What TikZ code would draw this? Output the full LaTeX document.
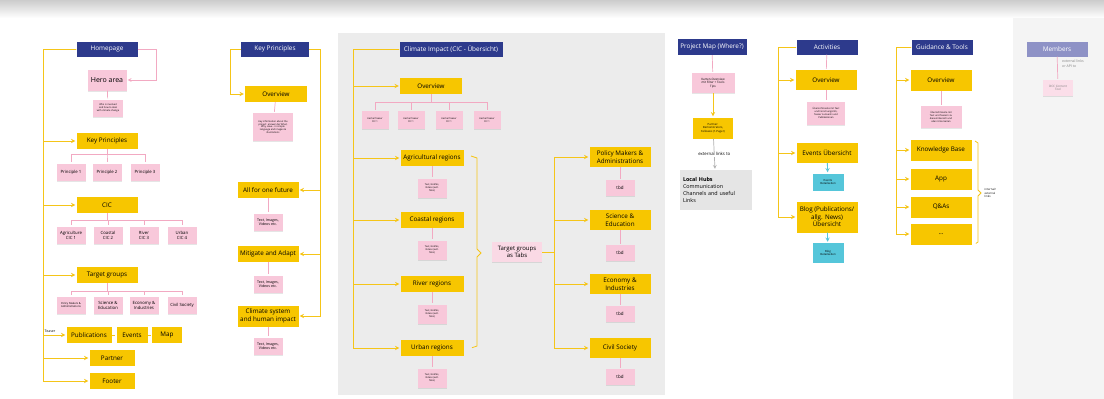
\documentclass[tikz,border=0pt]{standalone}
\usepackage{fontspec}
\setmainfont{Open Sans}
\usetikzlibrary{shadows}

\definecolor{navy}{HTML}{2D3A8C}
\definecolor{miroyellow}{HTML}{F7C600}
\definecolor{stickypink}{HTML}{F8C8DA}
\definecolor{linepink}{HTML}{F2A9C2}
\definecolor{lineyellow}{HTML}{F5C518}
\definecolor{mirocyan}{HTML}{55C6DA}
\definecolor{membernavy}{HTML}{8E92C6}
\def\fsz#1#2{\fontsize{#1}{#2}\selectfont}

\begin{document}
\begin{tikzpicture}[x=1pt,y=-1pt,>=stealth,shorten >=1pt]
\tikzstyle{title}=[fill=navy,text=white,minimum width=61pt,minimum height=15pt,inner sep=1pt,font=\fsz{6.4}{7.4}]
\tikzstyle{page}=[fill=miroyellow,minimum width=61pt,minimum height=16pt,inner sep=1pt,align=center,font=\fsz{6.3}{7.6}]
\tikzstyle{sticky}=[fill=stickypink,minimum width=29pt,minimum height=17pt,inner sep=0.5pt,align=center,font=\fsz{4.3}{5},drop shadow={opacity=0.2,shadow xshift=0pt,shadow yshift=-1pt}]
\tikzstyle{tiny}=[sticky,font=\fsz{2.4}{2.9}]
\tikzstyle{detail}=[fill=mirocyan,minimum width=31pt,minimum height=17pt,inner sep=0.5pt,align=center,font=\fsz{2.8}{3.4}]
\tikzstyle{bus}=[draw=lineyellow,line width=0.9pt]
\tikzstyle{feed}=[bus,->]
\tikzstyle{link}=[draw=linepink,line width=0.7pt]

\useasboundingbox (0,0) rectangle (1104,399);
\fill[white] (0,0) rectangle (1104,399);
\shade[top color=gray!40,bottom color=white] (0,0) rectangle (1104,18);
\fill[gray!15] (338,33) rectangle (665,395);
\fill[gray!9] (1013,18) rectangle (1104,399);

% Homepage
\node[title] (home) at (107,49) {Homepage};
\node[sticky,minimum width=39pt,minimum height=21pt,font=\fsz{7}{8}] (hero) at (107,80) {Hero area};
\node[tiny,minimum width=30pt] (heronote) at (108,108) {Who is involved\\and how to deal\\with climate change};
\node[page] (kp) at (107,141) {Key Principles};
\foreach \name / \x in {1/71,2/107,3/145}
\node[sticky] (pr-\name) at (\x,172) {Principle \name};
\node[page] (cic) at (107,205) {CIC};
\foreach \name / \x / \txt in {1/71/Agriculture,2/108/Coastal,3/144/River,4/182/Urban}
\node[sticky] (cic-\name) at (\x,235) {\txt\\CIC \name};
\node[page] (tg) at (107,275) {Target groups};
\node[tiny,font=\fsz{2.7}{3.2}] (tg-1) at (71,305) {Policy Makers \&\\Administrations};
\node[sticky] (tg-2) at (108,305) {Science \&\\Education};
\node[sticky] (tg-3) at (144,305) {Economy \&\\Industries};
\node[sticky] (tg-4) at (182,305) {Civil Society};
\node[page,minimum width=45pt] (pub) at (89,335) {Publications};
\node[page,minimum width=31pt] (events) at (132,335) {Events};
\node[page,minimum width=30pt] (map) at (167,335) {Map};
\node[page,minimum width=45pt] (partner) at (112,358) {Partner};
\node[page,minimum width=45pt] (footer) at (112,381) {Footer};
\node[font=\fsz{3.5}{4},anchor=south west,inner sep=0.5pt] (teaser) at (44,333) {Teaser};

\coordinate (hbus) at (43,49);
\foreach \dest in {kp,cic,tg,pub,partner,footer}
\draw[feed] (home.west) -- (hbus) |- (\dest.west);
\draw[bus] (pub) -- (events);
\draw[bus] (events) -- (map);
\draw[link,->] (home.east) -- ++(19,0) |- (hero.east);
\draw[link] (hero) -- (heronote);
\foreach \n in {1,2,3}
\draw[link] (kp.south) -- ++(0,5) -| (pr-\n.north);
\foreach \n in {1,...,4}
\draw[link] (cic.south) -- ++(0,7) -| (cic-\n.north);
\foreach \n in {1,...,4}
\draw[link] (tg.south) -- ++(0,8) -| (tg-\n.north);

% Key Principles
\node[title,minimum width=68pt] (kptitle) at (275,49) {Key Principles};
\node[page,minimum width=62pt] (kpov) at (276,94) {Overview};
\node[tiny,minimum width=40pt,minimum height=28pt] (kpnote) at (273,127) {Key information about the\\project: answer der What,\\Why, How\ldots{} in simple\\language and images \&\\illustrations};
\node[page] (future) at (268,190) {All for one future};
\node[page] (mitigate) at (268,254) {Mitigate and Adapt};
\node[page,minimum height=21pt] (system) at (268,316) {Climate system\\and human impact};
\foreach \p / \y in {future/222,mitigate/284,system/346}
\node[sticky,font=\fsz{3.6}{4.3}] (\p-n) at (268,\y) {Text, Images,\\Videos etc.};

\draw[feed] (kptitle.west) -- ++(-10,0) |- (kpov.west);
\coordinate (kbus) at (320,49);
\foreach \dest in {future,mitigate,system}
\draw[feed] (kptitle.east) -- (kbus) |- (\dest.east);
\draw[link] (kpov) -- (kpnote);
\foreach \p in {future,mitigate,system}
\draw[link] (\p) -- (\p-n);

% Climate Impact
\node[title,minimum width=103pt] (cictitle) at (451,49) {Climate Impact (CIC - Übersicht)};
\node[page,minimum width=62pt] (cicov) at (431,86) {Overview};
\foreach \name / \x in {1/375,2/411,3/449,4/487}
\node[tiny,minimum width=27pt,minimum height=18pt] (teaser-\name) at (\x,120) {Kachel Teaser\\CIC 1};
\foreach \n in {1,...,4}
\draw[link] (cicov.south) -- ++(0,8) -| (teaser-\n.north);

\foreach \name / \y / \txt in {agri/158/Agricultural regions,coast/220/Coastal regions,river/284/River regions,urban/348/Urban regions}
{
\node[page,minimum width=63pt] (\name) at (432,\y) {\txt};
\node[tiny,minimum height=19pt] (\name-n) at (432,\y+30) {Text, Grafiks,\\Videos (evtl.\\Tabs)};
\draw[link] (\name) -- (\name-n);
}
\coordinate (cbus) at (353,49);
\foreach \dest in {cicov,agri,coast,river,urban}
\draw[feed] (cictitle.west) -- (cbus) |- (\dest.west);
\draw[bus,line width=0.8pt] (471,156) -- (477,158) -- (477,249) -- (481,253) -- (477,257) -- (477,346) -- (471,348);

\node[sticky,fill=stickypink!70,minimum width=50pt,minimum height=20pt,font=\fsz{6}{7},drop shadow={opacity=0}] (tabs) at (517,252) {Target groups\\as Tabs};
\foreach \name / \y / \ny / \txt in {policy/157/188/{Policy Makers \&\\Administrations},science/220/253/{Science \&\\Education},economy/284/314/{Economy \&\\Industries},civil/348/377/Civil Society}
{
\node[page,minimum height=20pt] (\name) at (620,\y) {\txt};
\node[sticky,minimum height=16pt,font=\fsz{4.5}{5}] (\name-n) at (620,\ny) {tbd};
\draw[link] (\name) -- (\name-n);
}
\coordinate (tbus) at (554,252);
\foreach \dest in {policy,science,economy,civil}
\draw[feed] (tabs.east) -- (tbus) |- (\dest.west);

% Project Map
\node[title,minimum width=69pt,minimum height=16pt] (pmtitle) at (712,47) {Project Map (Where?)};
\node[tiny,minimum width=43pt,minimum height=20pt,font=\fsz{3}{3.6}] (karten) at (713,83) {Karten-Overview\\mit Filter + Tools\\Tips};
\node[page,minimum width=40pt,minimum height=21pt,font=\fsz{2.8}{3.4}] (pmpartner) at (713,128) {Partner:\\Demonstrators,\\Fellowes (1-Pager)};
\node[fill=gray!20,minimum width=72pt,minimum height=40pt,align=left,text width=66pt,font=\fsz{5.4}{7}] (hubs) at (716,190) {\textbf{Local Hubs}\\Communication\\Channels and useful\\Links};
\draw[link] (pmtitle) -- (karten);
\draw[feed] (karten) -- (pmpartner);
\draw[draw=gray!60,line width=0.7pt,->] (pmpartner) -- node[fill=white,font=\fsz{4.3}{5},inner sep=1pt] (extlbl) {external links to} (hubs);

% Activities
\node[title] (actitle) at (827,47) {Activities};
\node[page,minimum height=20pt] (acov) at (826,80) {Overview};
\node[tiny,minimum width=38pt,minimum height=23pt] (acnote) at (826,113) {Übersichtsseite mit Text\\und Forschungsinfo,\\Teaser zu Events und\\Publikationen};
\node[page,minimum height=20pt] (evov) at (827,153) {Events Übersicht};
\node[detail] (evdet) at (828,182) {Events\\Detailseiten};
\node[page,minimum height=31pt] (blog) at (827,217) {Blog (Publications/\\allg. News)\\Übersicht};
\node[detail,minimum height=20pt] (blogdet) at (828,253) {Blog\\Detailseiten};
\coordinate (abus) at (778,47);
\foreach \dest in {acov,evov,blog}
\draw[feed] (actitle.west) -- (abus) |- (\dest.west);
\draw[link] (actitle) -- (acov);
\draw[link] (acov) -- (acnote);
\draw[draw=mirocyan,line width=0.9pt,->] (evov) -- (evdet);
\draw[draw=mirocyan,line width=0.9pt,->] (blog) -- (blogdet);

% Guidance & Tools
\node[title] (gtitle) at (942,47) {Guidance \& Tools};
\node[page,minimum height=21pt] (gov) at (941,80) {Overview};
\node[tiny,minimum width=41pt,minimum height=22pt] (gnote) at (941,117) {Übersichtsseite mit\\Text und Teasern zu\\diesem Bereich und\\allen Unterseiten};
\foreach \name / \y / \txt in {kb/150/Knowledge Base,app/179/App,qa/207/Q\&As,more/234/{\ldots}}
\node[page,minimum height=21pt] (\name) at (941,\y) {\txt};
\coordinate (gbus) at (896,47);
\foreach \dest in {gov,kb,app,qa,more}
\draw[feed] (gtitle.west) -- (gbus) |- (\dest.west);
\draw[link] (gov) -- (gnote);
\draw[bus,line width=0.8pt] (975,141) -- (978,143) -- (978,190) -- (981,193) -- (978,196) -- (978,242) -- (975,244);
\node[font=\fsz{2.8}{3.3},align=left,anchor=west,inner sep=0.5pt] (glinks) at (984,193) {internal/\\external\\links};

% Members
\node[title,fill=membernavy] (mtitle) at (1057,49) {Members};
\node[tiny,fill=stickypink!60,minimum width=30pt,minimum height=16pt,font=\fsz{3}{3.6},text=gray] (mnote) at (1058,88) {DCC Content\\Tool};
\draw[link] (mtitle) -- (mnote);
\node[anchor=north west,font=\fsz{3.5}{4.2},text=gray,align=left,inner sep=0pt] (mlbl) at (1062,60) {external links\\or API to};
\end{tikzpicture}
\end{document}
